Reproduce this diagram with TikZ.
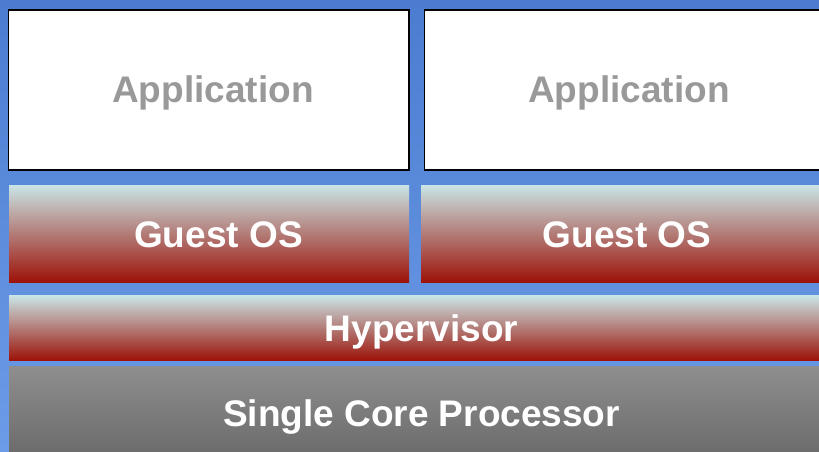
\documentclass[tikz,border=0pt]{standalone}
\usepackage{fontspec}
\setmainfont{Liberation Sans}
\begin{document}
\begin{tikzpicture}[x=1bp,y=-1bp,
  lbl/.style={anchor=base,inner sep=0pt,font=\fontsize{37bp}{40bp}\selectfont\bfseries},
  apptext/.style={lbl,text=apptxt},
  layertext/.style={lbl,text=white},
  appbox/.style={fill=white,draw=black,line width=1.6bp},
  redlayer/.style={top color=redtop,bottom color=redbot,shading angle=0},
  greylayer/.style={top color=greytop,bottom color=greybot}]
\definecolor{bgtop}{HTML}{4C7CCF}
\definecolor{bgbot}{HTML}{6C9CE8}
\definecolor{apptxt}{HTML}{999999}
\definecolor{redtop}{HTML}{C9E3E4}
\definecolor{redbot}{HTML}{9C1006}
\definecolor{greytop}{HTML}{8E8E8E}
\definecolor{greybot}{HTML}{696969}
\useasboundingbox (0,0) rectangle (819,452);
% background
\shade[top color=bgtop,bottom color=bgbot] (0,0) rectangle (819,452);
% application windows
\draw[appbox] (8.5,10) rectangle (409,170);
\draw[appbox] (424.5,10) rectangle (834,170);
% guest operating systems
\shade[redlayer] (9,186) rectangle (409,283);
\shade[redlayer] (421,186) rectangle (830,283);
% hypervisor
\shade[redlayer] (9,296) rectangle (830,361);
% processor
\shade[greylayer] (9,367) rectangle (830,460);
% labels
\node[apptext] (app1) at (213,103) {Application};
\node[apptext] (app2) at (629,103) {Application};
\node[layertext] (os1) at (218.5,248) {Guest OS};
\node[layertext] (os2) at (627,248) {Guest OS};
\node[layertext] (hyp) at (421.5,342) {Hypervisor};
\node[layertext] (cpu) at (421.5,426) {Single Core Processor};
\end{tikzpicture}
\end{document}
